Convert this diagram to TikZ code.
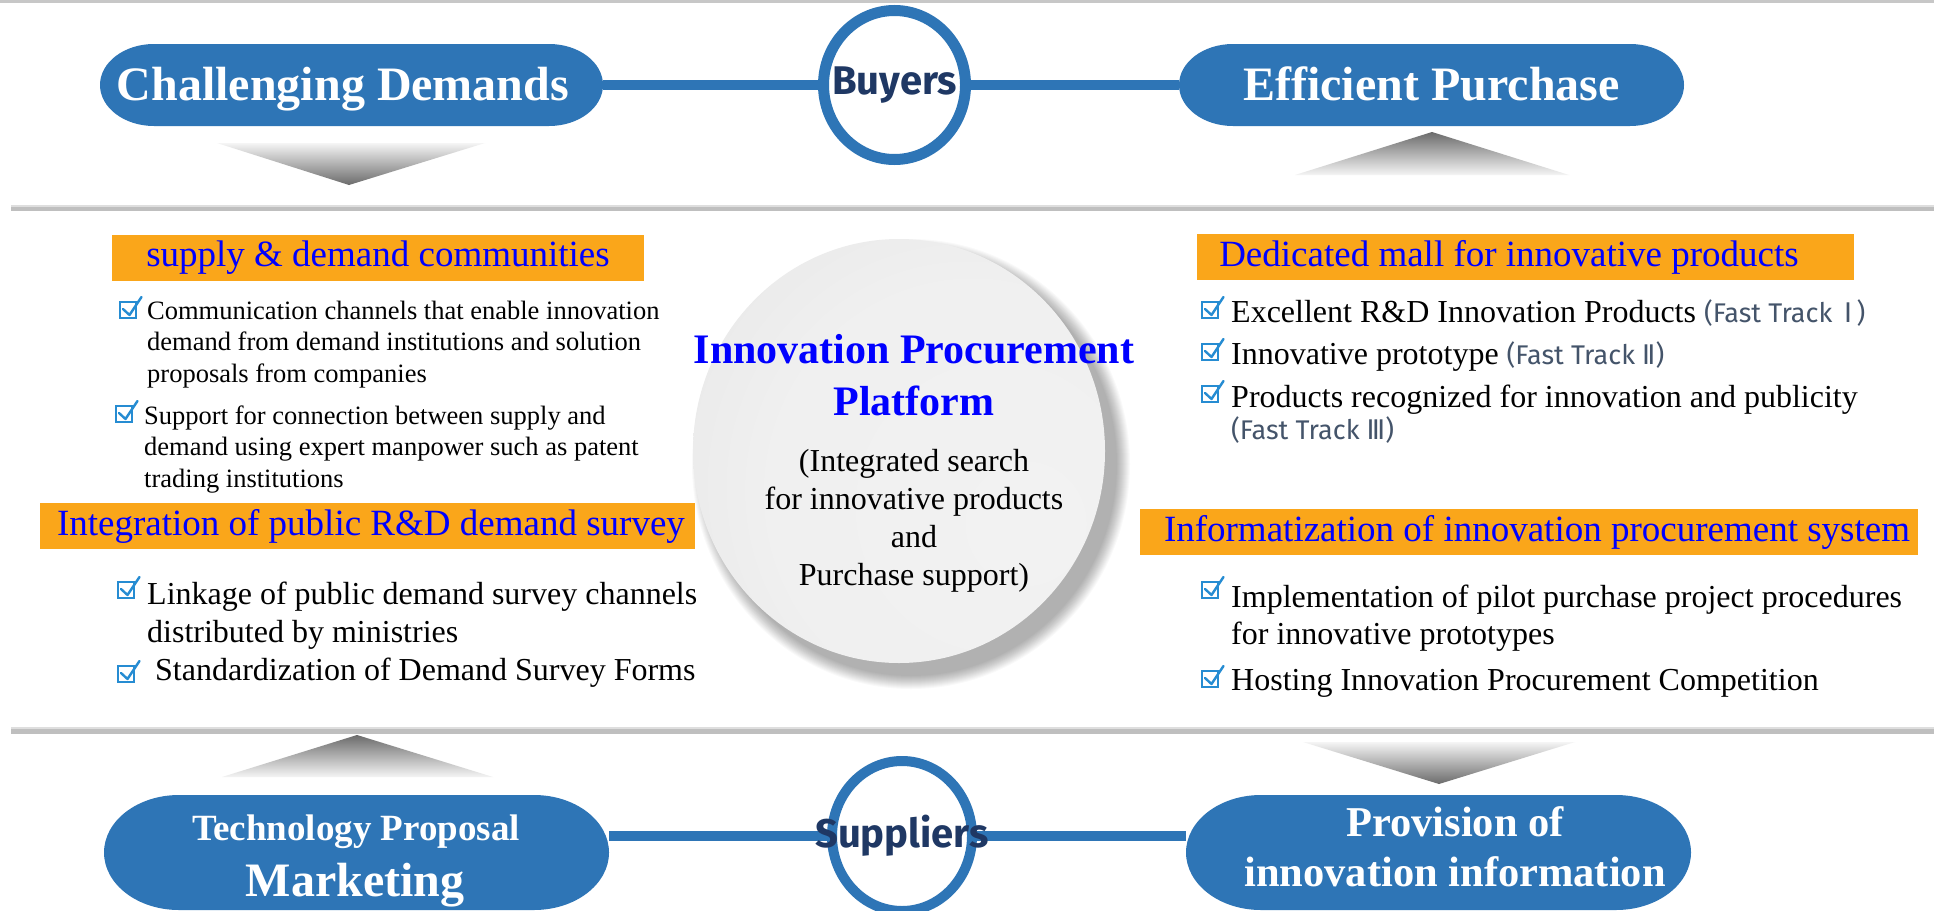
\documentclass[tikz,border=0pt]{standalone}
\usepackage{fontspec}
\setmainfont{Liberation Serif}
\newfontfamily\fira{Fira Sans}
\newfontfamily\dejavu{DejaVu Sans}
\usetikzlibrary{shapes.geometric}
\definecolor{pillblue}{RGB}{46,117,182}
\definecolor{navy}{RGB}{31,56,100}
\definecolor{orng}{RGB}{250,166,26}
\definecolor{chkblue}{RGB}{38,140,210}
\definecolor{ftgray}{RGB}{68,84,106}
\definecolor{sepgray}{RGB}{191,191,191}
\definecolor{txtblue}{RGB}{0,0,255}
\newcommand\fs[2]{\fontsize{#1pt}{#2pt}\selectfont}
\newcommand\tp{\rule{0pt}{0.8em}}
\newcommand\ft[1]{{\fira\fs{27}{32}\color{ftgray}#1}}
% \pillshape{name}{cx}{cy}{w}{h}{rx}{text}
\newcommand\pillshape[7]{%
  \fill[pillblue] ({#2-#4/2+#6},{#3-#5/2}) rectangle ({#2+#4/2-#6},{#3+#5/2})
    ({#2-#4/2+#6},#3) ellipse [x radius=#6pt, y radius=#5pt/2]
    ({#2+#4/2-#6},#3) ellipse [x radius=#6pt, y radius=#5pt/2];
  \node[pill, minimum width=#4pt, minimum height=#5pt] (#1) at (#2,#3) {#7};}
\pgfdeclareradialshading{platshade}{\pgfpoint{18bp}{-10bp}}{color(0bp)=(black!5); color(25bp)=(black!6); color(42bp)=(black!10); color(50bp)=(black!15)}
\tikzset{
  pill/.style={rectangle, inner sep=0, text=white, font=\bfseries\fs{48}{56}, text height=31.8pt, text depth=0pt},
  pilltxt/.style={anchor=base, inner sep=0, text=white, font=\bfseries\fs{48}{56}},
  ring/.style={ellipse, draw=pillblue, fill=white, inner sep=0},
  ringlbl/.style={font=\fira\bfseries\fs{40}{48}, text=navy, inner sep=0},
  obox/.style={rectangle, fill=orng, inner sep=0, text=txtblue, font=\fs{37}{44}, minimum height=46pt},
  item/.style={anchor=north west, inner sep=0, align=left},
  conn/.style={draw=pillblue, line width=10.5pt},
  chkbox/.pic={
    \draw[chkblue, line width=1.7pt] (0,0) rectangle (16,-16);
    \draw[chkblue, line width=2.4pt, line cap=round, line join=round] (3,-9) -- (9.5,-3) -- (21.5,-21);
  }
}
\begin{document}
\begin{tikzpicture}[x=1pt, y=-1pt]
\useasboundingbox (0,0) rectangle (1934,910);
\fill[white] (0,0) rectangle (1934,910);
% separator lines
\fill[black!22] (0,0) rectangle (1934,2.5);
\fill[black!13] (11,204.5) rectangle (1934,206.5);
\fill[sepgray] (11,206.5) rectangle (1934,211);
\fill[black!13] (11,727) rectangle (1934,729);
\fill[sepgray] (11,729) rectangle (1934,734);
% shaded triangles
\shade[top color=black!4, bottom color=black!58] (217,143) -- (485,143) -- (349,185) -- cycle;
\shade[top color=black!58, bottom color=black!4] (1432,132) -- (1569,175) -- (1295,175) -- cycle;
\shade[top color=black!58, bottom color=black!4] (357,735) -- (493,777) -- (222,777) -- cycle;
\shade[top color=black!4, bottom color=black!58] (1303,742) -- (1575,742) -- (1439,784) -- cycle;
% pills
\pillshape{cd}{351.5}{85}{503}{82}{54}{Challenging Demands\hspace*{17pt}}
\pillshape{ep}{1431.5}{85}{505}{82}{54}{Efficient Purchase}
\pillshape{tp}{356.5}{852.5}{505}{115}{75}{}
\node[pilltxt, font=\bfseries\fs{37}{44}] (tp1) at (356,840) {Technology Proposal};
\node[pilltxt] (tp2) at (355,896.7) {Marketing};
\pillshape{pi}{1438.5}{852.5}{505}{115}{75}{}
\node[pilltxt, font=\bfseries\fs{42.5}{50}] (pi1) at (1455,836) {Provision of};
\node[pilltxt, font=\bfseries\fs{42.5}{50}] (pi2) at (1455,886.7) {innovation information};
% rings
\node[ring, line width=11pt, minimum width=142pt, minimum height=149pt] (buy) at (894.5,85) {};
\node[ring, line width=10pt, minimum width=140pt, minimum height=150pt] (sup) at (902,836) {};
\draw[conn] (cd.east) -- (buy.west);
\draw[conn] (buy.east) -- (ep.west);
\draw[conn] (sup.west) -- (sup.west -| tp.east);
\draw[conn] (sup.east) -- (sup.east -| pi.west);
\node[ringlbl] (buytxt) at (buy.center) {Buyers};
\node[ringlbl] (suptxt) at (sup.center) {Suppliers};
% central platform: soft shadow then disc
\foreach \i in {0,...,13}
  \fill[black, opacity=0.022] (911,464) ellipse [x radius={219-\i}, y radius={225-\i}];
\node[ellipse, minimum width=412pt, minimum height=424pt, inner sep=0, shade, shading=platshade] (plat) at (899,451) {};
\node[anchor=north, inner sep=0, align=center, font=\bfseries\fs{42}{52}, text=txtblue] (ptitle) at (914,329.4) {\tp Innovation Procurement\\Platform};
\node[anchor=north, inner sep=0, align=center, font=\fs{32}{37.8}] (psub) at (914,446.1) {\tp(Integrated search\\for innovative products\\and\\Purchase support)};
% orange headers
\node[obox, minimum width=532pt] (b1) at (378,258) {supply \& demand communities};
\node[obox, minimum width=655pt] (b2) at (367.5,526) {\hspace*{7pt}Integration of public R\&D demand survey};
\node[obox, minimum width=657pt] (b3) at (1525.5,257) {Dedicated mall for innovative products\hspace*{33pt}};
\node[obox, minimum width=778pt] (b4) at (1529,532) {\hspace*{16pt}Informatization of innovation procurement system};
% left items
\pic at (120,318) {chkbox};
\node[item, font=\fs{26.5}{31.5}] (l1) at (147,297.8) {\tp Communication channels that enable innovation\\demand from demand institutions and solution\\proposals from companies};
\pic at (116,422) {chkbox};
\node[item, font=\fs{26.5}{31.5}] (l2) at (144,402.8) {\tp Support for connection between supply and\\demand using expert manpower such as patent\\trading institutions};
\pic at (118,598) {chkbox};
\node[item, font=\fs{32}{38.5}] (l3) at (147,578.4) {\tp Linkage of public demand survey channels\\distributed by ministries};
\pic at (118,682) {chkbox};
\node[item, font=\fs{32}{38}] (l4) at (155,654.4) {\tp Standardization of Demand Survey Forms};
% right items
\pic at (1202,318) {chkbox};
\node[item, font=\fs{32}{38}] (r1) at (1231,296.4) {\tp Excellent R\&D Innovation Products \ft{(Fast Track \,{\dejavu Ⅰ}\,)}};
\pic at (1202,360) {chkbox};
\node[item, font=\fs{32}{38}] (r2) at (1231,338.4) {\tp Innovative prototype \ft{(Fast Track {\dejavu Ⅱ})}};
\pic at (1202,402) {chkbox};
\node[item, font=\fs{32}{32}] (r3) at (1231,381.4) {\tp Products recognized for innovation and publicity\\\ft{(Fast Track {\dejavu Ⅲ})}};
\pic at (1202,598) {chkbox};
\node[item, font=\fs{32}{37}] (r4) at (1231,581.4) {\tp Implementation of pilot purchase project procedures\\for innovative prototypes};
\pic at (1202,687) {chkbox};
\node[item, font=\fs{32}{38}] (r5) at (1231,664.4) {\tp Hosting Innovation Procurement Competition};
\end{tikzpicture}
\end{document}
